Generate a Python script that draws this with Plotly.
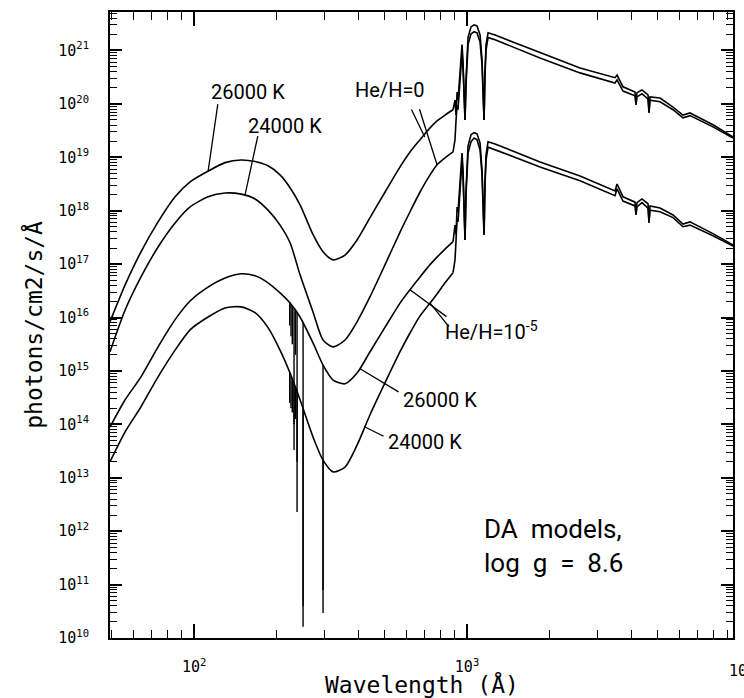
import numpy as np
import plotly.graph_objects as go

# ---------------- data ----------------
# EUV part: wavelength (Angstrom) and log10 photon flux
wl_euv = [49.2, 55.9, 63.9, 73.8, 85.2, 96.7, 112.5, 129.9, 148.7, 167.3, 186.6, 206.5,
          224.7, 244.5, 272.9, 296.8, 323.1, 357.4, 395.4, 441.2, 500.9, 568.3, 618.2,
          672.8, 731.9, 776.5, 830.7, 888.7]
lf_euv_26k_h0 = [15.92, 16.61, 17.23, 17.79, 18.26, 18.54, 18.74, 18.90, 18.95, 18.92, 18.84, 18.67,
                 18.43, 18.11, 17.55, 17.23, 17.08, 17.17, 17.45, 17.87, 18.35, 18.82, 19.10,
                 19.33, 19.55, 19.68, 19.79, 19.89]
lf_euv_24k_h0 = [15.36, 16.14, 16.76, 17.32, 17.77, 18.07, 18.26, 18.33, 18.31, 18.22, 18.01, 17.73,
                 17.40, 16.80, 16.10, 15.58, 15.45, 15.58, 15.92, 16.39, 16.99, 17.60, 17.98,
                 18.35, 18.67, 18.86, 18.99, 19.10]
lf_euv_26k_he = [13.95, 14.46, 14.89, 15.45, 15.96, 16.31, 16.57, 16.74, 16.82, 16.78, 16.65, 16.46,
                 16.27, 16.01, 15.52, 15.11, 14.83, 14.76, 14.96, 15.36, 15.82, 16.27, 16.52,
                 16.76, 16.99, 17.13, 17.28, 17.42]
lf_euv_24k_he = [13.30, 13.86, 14.33, 14.89, 15.39, 15.77, 16.01, 16.18, 16.20, 16.09, 15.81, 15.39,
                 14.96, 14.46, 13.76, 13.33, 13.11, 13.20, 13.61, 14.18, 14.78, 15.36, 15.71,
                 16.03, 16.27, 16.44, 16.65, 16.84]

# He II absorption lines in the He/H = 1e-5 models
he_line_wl = [224.0, 226.5, 229.0, 232.4, 235.2, 238.4, 250.8, 296.8]
he_cont_26k = [16.29, 16.24, 16.21, 16.17, 16.13, 16.09, 15.90, 15.11]
he_core_26k = [15.85, 15.65, 15.50, 13.52, 15.30, 12.36, 10.21, 10.47]
he_cont_24k = [14.98, 14.90, 14.83, 14.76, 14.69, 14.61, 14.30, 13.33]
he_core_24k = [14.40, 14.30, 14.22, 14.00, 14.10, 13.30, 10.60, 10.90]

# Lyman edge and longer wavelengths
wl_long = [888.7, 903.6, 911.6, 919.4, 926.8, 942.7, 958.7, 966.7, 983.3, 991.5, 1008.5, 1034, 1061,
           1088, 1116, 1135, 1154.5, 1164, 1174, 1194, 1267, 1851, 2594, 3485, 3545, 3728,
           4125, 4159, 4195, 4375, 4603, 4642, 4681, 5093, 5684, 6183, 6559, 7962, 9428]
lf_long_26k_h0 = [19.89, 20.07, 19.79, 20.22, 20.07, 20.64, 21.11, 20.79, 19.70, 20.45, 21.24, 21.44, 21.48,
                  21.46, 21.29, 20.82, 19.70, 20.64, 21.11, 21.33, 21.29, 20.96, 20.67, 20.49, 20.54,
                  20.32, 20.22, 20.02, 20.21, 20.26, 20.17, 19.85, 20.13, 20.11, 19.94, 19.79, 19.83,
                  19.61, 19.38]
lf_long_24k_h0 = [19.10, 19.33, 19.70, 19.98, 19.89, 20.45, 20.97, 20.67, 19.70, 20.36, 21.11, 21.31, 21.35,
                  21.33, 21.16, 20.73, 19.70, 20.54, 21.01, 21.24, 21.20, 20.86, 20.58, 20.39, 20.45,
                  20.24, 20.15, 19.98, 20.13, 20.19, 20.09, 19.83, 20.07, 20.04, 19.89, 19.74, 19.78,
                  19.57, 19.36]
lf_long_26k_he = [17.42, 17.73, 17.55, 18.07, 17.98, 18.58, 19.08, 18.76, 17.45, 18.39, 19.21, 19.42, 19.46,
                  19.44, 19.27, 18.76, 17.55, 18.58, 19.04, 19.29, 19.25, 18.91, 18.65, 18.37, 18.50,
                  18.26, 18.16, 17.96, 18.15, 18.22, 18.13, 17.79, 18.09, 18.05, 17.92, 17.75, 17.79,
                  17.57, 17.36]
lf_long_24k_he = [16.84, 17.08, 17.45, 17.87, 17.79, 18.39, 18.95, 18.65, 17.45, 18.30, 19.08, 19.29, 19.36,
                  19.33, 19.14, 18.67, 17.55, 18.48, 18.95, 19.19, 19.14, 18.82, 18.56, 18.28, 18.41,
                  18.18, 18.09, 17.92, 18.07, 18.15, 18.05, 17.77, 18.01, 17.98, 17.87, 17.70, 17.73,
                  17.53, 17.34]

y_decades = list(range(10, 22))
x_decades = [2, 3]

LINE = dict(color='black', width=1.6)
fig = go.Figure()


def add_curve(lf_euv, lf_long, cont=None, core=None):
    fig.add_trace(go.Scatter(x=wl_euv, y=10 ** np.array(lf_euv), mode='lines',
                             line=dict(LINE, shape='spline', smoothing=0.7), hoverinfo='skip'))
    fig.add_trace(go.Scatter(x=wl_long, y=10 ** np.array(lf_long), mode='lines',
                             line=LINE, hoverinfo='skip'))
    if cont is not None:
        xs, ys = [], []
        for w, c, k in zip(he_line_wl, cont, core):
            xs += [w, w, None]
            ys += [10 ** c, 10 ** k, None]
        fig.add_trace(go.Scatter(x=xs, y=ys, mode='lines', line=dict(color='black', width=1.4),
                                 hoverinfo='skip'))


add_curve(lf_euv_26k_h0, lf_long_26k_h0)
add_curve(lf_euv_24k_h0, lf_long_24k_h0)
add_curve(lf_euv_26k_he, lf_long_26k_he, he_cont_26k, he_core_26k)
add_curve(lf_euv_24k_he, lf_long_24k_he, he_cont_24k, he_core_24k)

LBL = dict(family='Roboto', size=20, color='black')
MONO = 'DejaVu Sans Mono'
ann = []
texts = [
    ("26000 K", 2.198, 20.22),
    ("24000 K", 2.333, 19.59),
    ("He/H=0", 2.718, 20.26),
    ("He/H=10<sup>-5</sup>", 3.088, 15.75),
    ("26000 K", 2.901, 14.46),
    ("24000 K", 2.846, 13.67),
]
for t, x, y in texts:
    ann.append(dict(text=t, x=x, y=y, xref='x', yref='y', showarrow=False, font=LBL))
ann.append(dict(text="DA\u00a0\u00a0models,<br>log\u00a0\u00a0g\u00a0\u00a0=\u00a0\u00a08.6", x=3.055, y=12.36,
                xref='x', yref='y', xanchor='left', yanchor='top', align='left', showarrow=False,
                font=dict(family='Roboto', size=26, color='black')))
leaders = [
    (np.log10(112.5), 18.73, 10, -69),
    (np.log10(153.8), 18.30, 13, -60),
    (np.log10(700.0), 19.38, -14, -29),
    (np.log10(776.5), 18.86, -18, -57),
    (np.log10(618.0), 16.52, 38, 28),
    (np.log10(732.0), 16.27, 20, 25),
    (np.log10(405.5), 15.04, 40, 24),
    (np.log10(423.0), 13.95, 20, 10),
]
for x, y, ax, ay in leaders:
    ann.append(dict(text='', x=x, y=y, xref='x', yref='y', showarrow=True, arrowhead=0,
                    arrowwidth=1.3, arrowcolor='black', ax=ax, ay=ay, standoff=0, startstandoff=0))
# axis titles
ann.append(dict(text='Wavelength (Å)', x=0.5, y=-0.074, xref='paper', yref='paper',
                yanchor='middle', showarrow=False, font=dict(family=MONO, size=23, color='black')))
ann.append(dict(text='photons/cm2/s/Å', x=-0.124, y=0.5, xref='paper', yref='paper', textangle=-90,
                xanchor='center', yanchor='middle', showarrow=False,
                font=dict(family=MONO, size=23, color='black')))
# cut-off 10^4 label at the right edge
ann.append(dict(text="10<sup>4</sup>", x=1, y=0, xref='paper', yref='paper', xanchor='center',
                yanchor='top', xshift=8, yshift=-20, showarrow=False,
                font=dict(family=MONO, size=15, color='black')))

x_minor = [m * 10.0 ** e for e in (1, 2, 3) for m in range(2, 10)]
y_minor = [m * 10.0 ** e for e in range(10, 22) for m in range(2, 10)]

fig.update_layout(
    width=744, height=698,
    margin=dict(l=110, r=11, t=12, b=60, autoexpand=False),
    paper_bgcolor='white', plot_bgcolor='white', showlegend=False,
    font=dict(family=MONO, color='black'),
    annotations=ann,
)
fig.update_xaxes(
    type='log', range=[np.log10(49.2), np.log10(9428)], automargin=False,
    tickmode='array', tickvals=[10.0 ** d for d in x_decades],
    ticktext=['10<sup>%d</sup>' % d for d in x_decades],
    ticks='inside', ticklen=14, tickwidth=1.5, tickcolor='black',
    minor=dict(tickmode='array', tickvals=x_minor, ticks='inside', ticklen=8, tickwidth=1.2,
               tickcolor='black', showgrid=False),
    showline=True, linewidth=2, linecolor='black', mirror='allticks', showgrid=False, zeroline=False,
    tickfont=dict(size=15, family=MONO), ticklabelstandoff=14,
)
fig.update_yaxes(
    type='log', range=[10, 21.72], automargin=False,
    tickmode='array', tickvals=[10.0 ** d for d in y_decades],
    ticktext=['10<sup>%d</sup>' % d for d in y_decades],
    ticks='inside', ticklen=12, tickwidth=1.5, tickcolor='black',
    minor=dict(tickmode='array', tickvals=y_minor, ticks='inside', ticklen=7, tickwidth=1.2,
               tickcolor='black', showgrid=False),
    showline=True, linewidth=2, linecolor='black', mirror='allticks', showgrid=False, zeroline=False,
    tickfont=dict(size=15, family=MONO), ticklabelstandoff=16,
)

fig.write_html("out.html", config={'displayModeBar': False},
               post_script="document.body.style.margin='0px';")
